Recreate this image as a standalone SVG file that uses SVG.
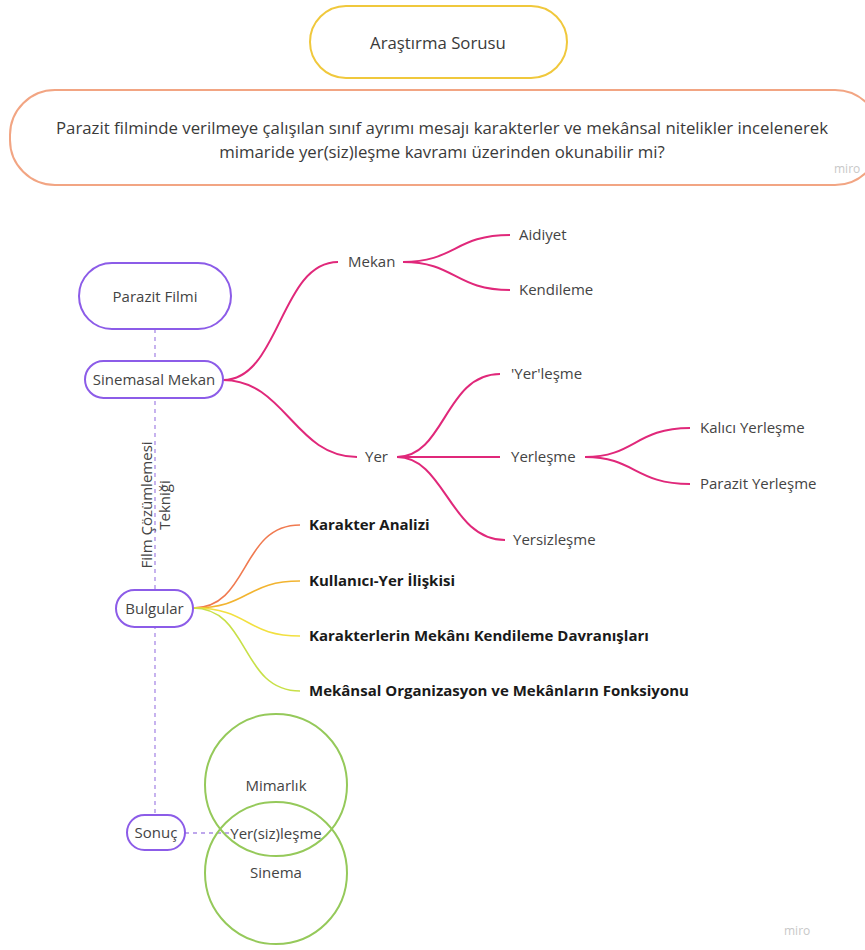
<svg xmlns="http://www.w3.org/2000/svg" width="865" height="950" viewBox="0 0 865 950">
<style>
text{font-family:"Open Sans","Noto Sans","Liberation Sans",sans-serif;fill:#444;font-size:15px}
.c{text-anchor:middle}
.big{font-size:16.8px;fill:#3a3a3a}
.wm{font-size:12px;fill:#c8c8c8}
.b{font-weight:bold;fill:#1a1a1a}
.p{fill:#fff;stroke:#8c5ce8;stroke-width:2}
.br{fill:none;stroke:#e0287a;stroke-width:2}
.dash{fill:none;stroke:#a98ae6;stroke-width:1.3;stroke-dasharray:4 4}
.circ{fill:none;stroke:#95c95a;stroke-width:2}
</style>
<rect width="865" height="950" fill="#fff"/>
<g id="connectors">
<path class="dash" d="M155,329 V815"/>
<path class="dash" d="M185,833 H230"/>
<path class="br" d="M223,380 C280,380 280,262 338,262"/>
<path class="br" d="M223,380 C285,380 295,457 357,457"/>
<path class="br" d="M403,262 C455,262 455,235 510,235"/>
<path class="br" d="M403,262 C455,262 455,290 510,290"/>
<path class="br" d="M397,457 C445,457 445,374 500,374"/>
<path class="br" d="M397,457 H500"/>
<path class="br" d="M397,457 C445,457 450,540 505,540"/>
<path class="br" d="M585,457 C635,457 635,428 690,428"/>
<path class="br" d="M585,457 C635,457 635,484 690,484"/>
<path fill="none" stroke="#f07a50" stroke-width="1.6" d="M193,608 C250,608 240,525 300,525"/>
<path fill="none" stroke="#f2b430" stroke-width="1.6" d="M193,608 C250,608 245,581 300,581"/>
<path fill="none" stroke="#f2e040" stroke-width="1.6" d="M193,608 C250,608 245,636 300,636"/>
<path fill="none" stroke="#c8e048" stroke-width="1.6" d="M193,608 C250,608 240,691 300,691"/>
</g>
<g id="arastirma">
<rect x="310" y="6" width="257" height="72" rx="36" fill="#fff" stroke="#f0c83c" stroke-width="2"/>
<text class="c big" x="438" y="49">Araştırma Sorusu</text>
</g>
<g id="soru">
<rect x="10" y="90" width="870" height="95" rx="45" fill="#fff" stroke="#f2a583" stroke-width="2"/>
<text class="c big" x="442" y="134">Parazit filminde verilmeye çalışılan sınıf ayrımı mesajı karakterler ve mekânsal nitelikler incelenerek</text>
<text class="c big" x="442" y="158">mimaride yer(siz)leşme kavramı üzerinden okunabilir mi?</text>
<text class="wm" x="834" y="173">miro</text>
</g>
<g id="parazit-filmi">
<rect class="p" x="79" y="263" width="152" height="66" rx="33"/>
<text class="c" x="155" y="302">Parazit Filmi</text>
</g>
<g id="sinemasal-mekan">
<rect class="p" x="85" y="361" width="138" height="37" rx="18.5"/>
<text class="c" x="154" y="385">Sinemasal Mekan</text>
</g>
<g id="teknik">
<text class="c" transform="translate(152,505) rotate(-90)">Film Çözümlemesi</text>
<text class="c" transform="translate(170,505) rotate(-90)">Tekniği</text>
</g>
<g id="mekan"><text x="348" y="267">Mekan</text></g>
<g id="aidiyet"><text x="519" y="240">Aidiyet</text></g>
<g id="kendileme"><text x="519" y="295">Kendileme</text></g>
<g id="yer"><text x="365" y="462">Yer</text></g>
<g id="yerlesme1"><text x="511" y="379">'Yer'leşme</text></g>
<g id="yerlesme"><text x="511" y="462">Yerleşme</text></g>
<g id="yersizlesme"><text x="513" y="545">Yersizleşme</text></g>
<g id="kalici"><text x="700" y="433">Kalıcı Yerleşme</text></g>
<g id="parazit-yerlesme"><text x="700" y="489">Parazit Yerleşme</text></g>
<g id="bulgular">
<rect class="p" x="116" y="590" width="77" height="37" rx="18.5"/>
<text class="c" x="154.5" y="614">Bulgular</text>
</g>
<g id="karakter"><text class="b" x="309" y="530">Karakter Analizi</text></g>
<g id="kullanici"><text class="b" x="309" y="586">Kullanıcı-Yer İlişkisi</text></g>
<g id="kendileme-davranis"><text class="b" x="309" y="641">Karakterlerin Mekânı Kendileme Davranışları</text></g>
<g id="organizasyon"><text class="b" x="309" y="696">Mekânsal Organizasyon ve Mekânların Fonksiyonu</text></g>
<g id="mimarlik">
<circle class="circ" cx="276" cy="785" r="71"/>
<text class="c" x="276" y="791">Mimarlık</text>
</g>
<g id="sinema">
<circle class="circ" cx="276" cy="873" r="71"/>
<text class="c" x="276" y="878">Sinema</text>
</g>
<g id="yersizlesme-kesisim"><text class="c" x="276" y="839">Yer(siz)leşme</text></g>
<g id="sonuc">
<rect class="p" x="127" y="815" width="58" height="35" rx="17.5"/>
<text class="c" x="156" y="838">Sonuç</text>
</g>
<text class="wm" x="784" y="935">miro</text>
</svg>
